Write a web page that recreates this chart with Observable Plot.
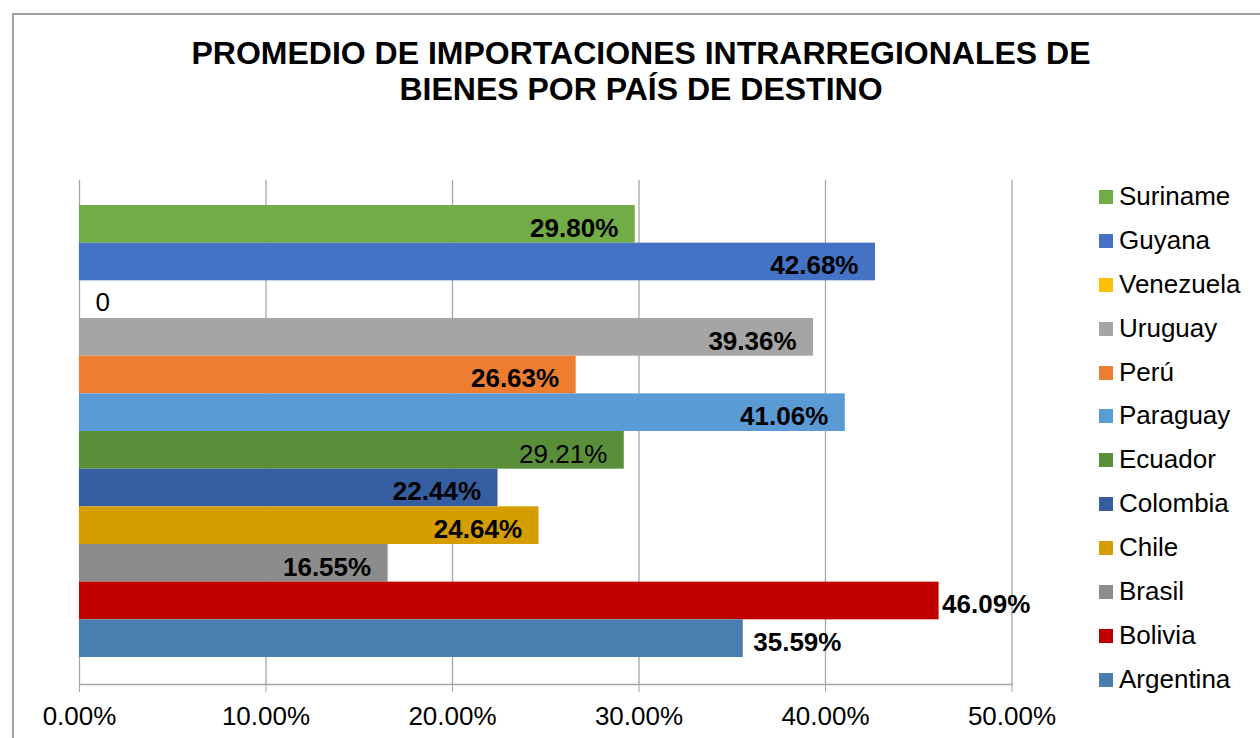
<!DOCTYPE html>
<html>
<head>
<meta charset="utf-8">
<script src="https://cdn.jsdelivr.net/npm/d3@7"></script>
<script src="https://cdn.jsdelivr.net/npm/@observablehq/plot@0.6"></script>
<style>
  html, body { margin: 0; padding: 0; background: #fff; }
  #wrap { position: relative; width: 1260px; height: 738px; overflow: hidden; font-family: "Liberation Sans", Arial, sans-serif; }
  #border { position: absolute; left: 12px; top: 13px; width: 1400px; height: 900px; border-left: 2px solid #a0a0a0; border-top: 2px solid #a0a0a0; }
  #chart { position: absolute; left: 0; top: 0; }
  #title { position: absolute; left: 0; top: 35px; width: 1282px; text-align: center; font-weight: bold; font-size: 32px; line-height: 36px; color: #000; }
  #legend { position: absolute; left: 1099px; top: 175px; }
  .row { display: flex; align-items: center; height: 43.9px; }
  .sw { width: 14px; height: 14px; margin-right: 6px; }
  .lab { font-size: 26px; color: #000; line-height: 43.9px; }
</style>
</head>
<body>
<div id="wrap">
  <div id="border"></div>
  <div id="chart"></div>
  <div id="title">PROMEDIO DE IMPORTACIONES INTRARREGIONALES DE<br>BIENES POR PAÍS DE DESTINO</div>
  <div id="legend"></div>
</div>
<script>
// Data (top to bottom as drawn)
const countries = ["Suriname", "Guyana", "Venezuela", "Uruguay", "Perú", "Paraguay", "Ecuador", "Colombia", "Chile", "Brasil", "Bolivia", "Argentina"];
const values = [0.2980, 0.4268, 0, 0.3936, 0.2663, 0.4106, 0.2921, 0.2244, 0.2464, 0.1655, 0.4609, 0.3559];
const colors = ["#70AD47", "#4472C4", "#FFC000", "#A5A5A5", "#ED7D31", "#5B9BD5", "#5A8F3A", "#355EA0", "#D49E00", "#8C8C8C", "#C00000", "#4A7EAF"];
const xTicks = [0, 0.1, 0.2, 0.3, 0.4, 0.5];

const data = countries.map((c, i) => ({country: c, value: values[i]}));
const fmt = v => (v * 100).toFixed(2) + "%";

// label groups
const plainInside = new Set(["Ecuador"]);
const outsideNear = new Set(["Bolivia"]);
const outsideFar = new Set(["Argentina"]);
const zeroLab = data.filter(d => d.value === 0);
const boldInside = data.filter(d => d.value > 0 && !plainInside.has(d.country) && !outsideNear.has(d.country) && !outsideFar.has(d.country));

const font = "Liberation Sans, Arial, sans-serif";

const chart = Plot.plot({
  width: 1260,
  height: 738,
  marginLeft: 79,
  marginRight: 248.5,
  marginTop: 180,
  marginBottom: 54,
  style: {fontFamily: font, background: "transparent", color: "#000"},
  x: {domain: [0, 0.5], label: null},
  y: {domain: countries, range: [205, 657], padding: 0, round: false, axis: null},
  color: {domain: countries, range: colors},
  marks: [
    Plot.gridX(xTicks, {stroke: "#a6a6a6", strokeOpacity: 1, strokeWidth: 1.3}),
    Plot.frame({anchor: "bottom", stroke: "#a6a6a6", strokeWidth: 1.5}),
    Plot.axisX(xTicks, {anchor: "bottom", label: null, tickSize: 8, tickPadding: 14, stroke: "#a6a6a6", fontSize: 26, tickFormat: fmt, fill: "#000"}),
    Plot.barX(data, {x: "value", y: "country", fill: "country"}),
    Plot.text(boldInside, {x: "value", y: "country", text: d => fmt(d.value), textAnchor: "end", dx: -17, dy: 4, fontSize: 26, fontWeight: "bold", fill: "#000"}),
    Plot.text(data.filter(d => plainInside.has(d.country)), {x: "value", y: "country", text: d => fmt(d.value), textAnchor: "end", dx: -17, dy: 4, fontSize: 26, fill: "#000"}),
    Plot.text(data.filter(d => outsideNear.has(d.country)), {x: "value", y: "country", text: d => fmt(d.value), textAnchor: "start", dx: 3, dy: 4, fontSize: 26, fontWeight: "bold", fill: "#000"}),
    Plot.text(data.filter(d => outsideFar.has(d.country)), {x: "value", y: "country", text: d => fmt(d.value), textAnchor: "start", dx: 10, dy: 4, fontSize: 26, fontWeight: "bold", fill: "#000"}),
    Plot.text(zeroLab, {x: "value", y: "country", text: d => String(d.value), textAnchor: "start", dx: 16, dy: 3, fontSize: 26, fill: "#000"})
  ]
});
document.getElementById("chart").appendChild(chart);

// Legend
const legend = document.getElementById("legend");
countries.forEach((c, i) => {
  const row = document.createElement("div");
  row.className = "row";
  const sw = document.createElement("div");
  sw.className = "sw";
  sw.style.background = colors[i];
  const lab = document.createElement("span");
  lab.className = "lab";
  lab.textContent = c;
  row.appendChild(sw);
  row.appendChild(lab);
  legend.appendChild(row);
});
</script>
</body>
</html>
